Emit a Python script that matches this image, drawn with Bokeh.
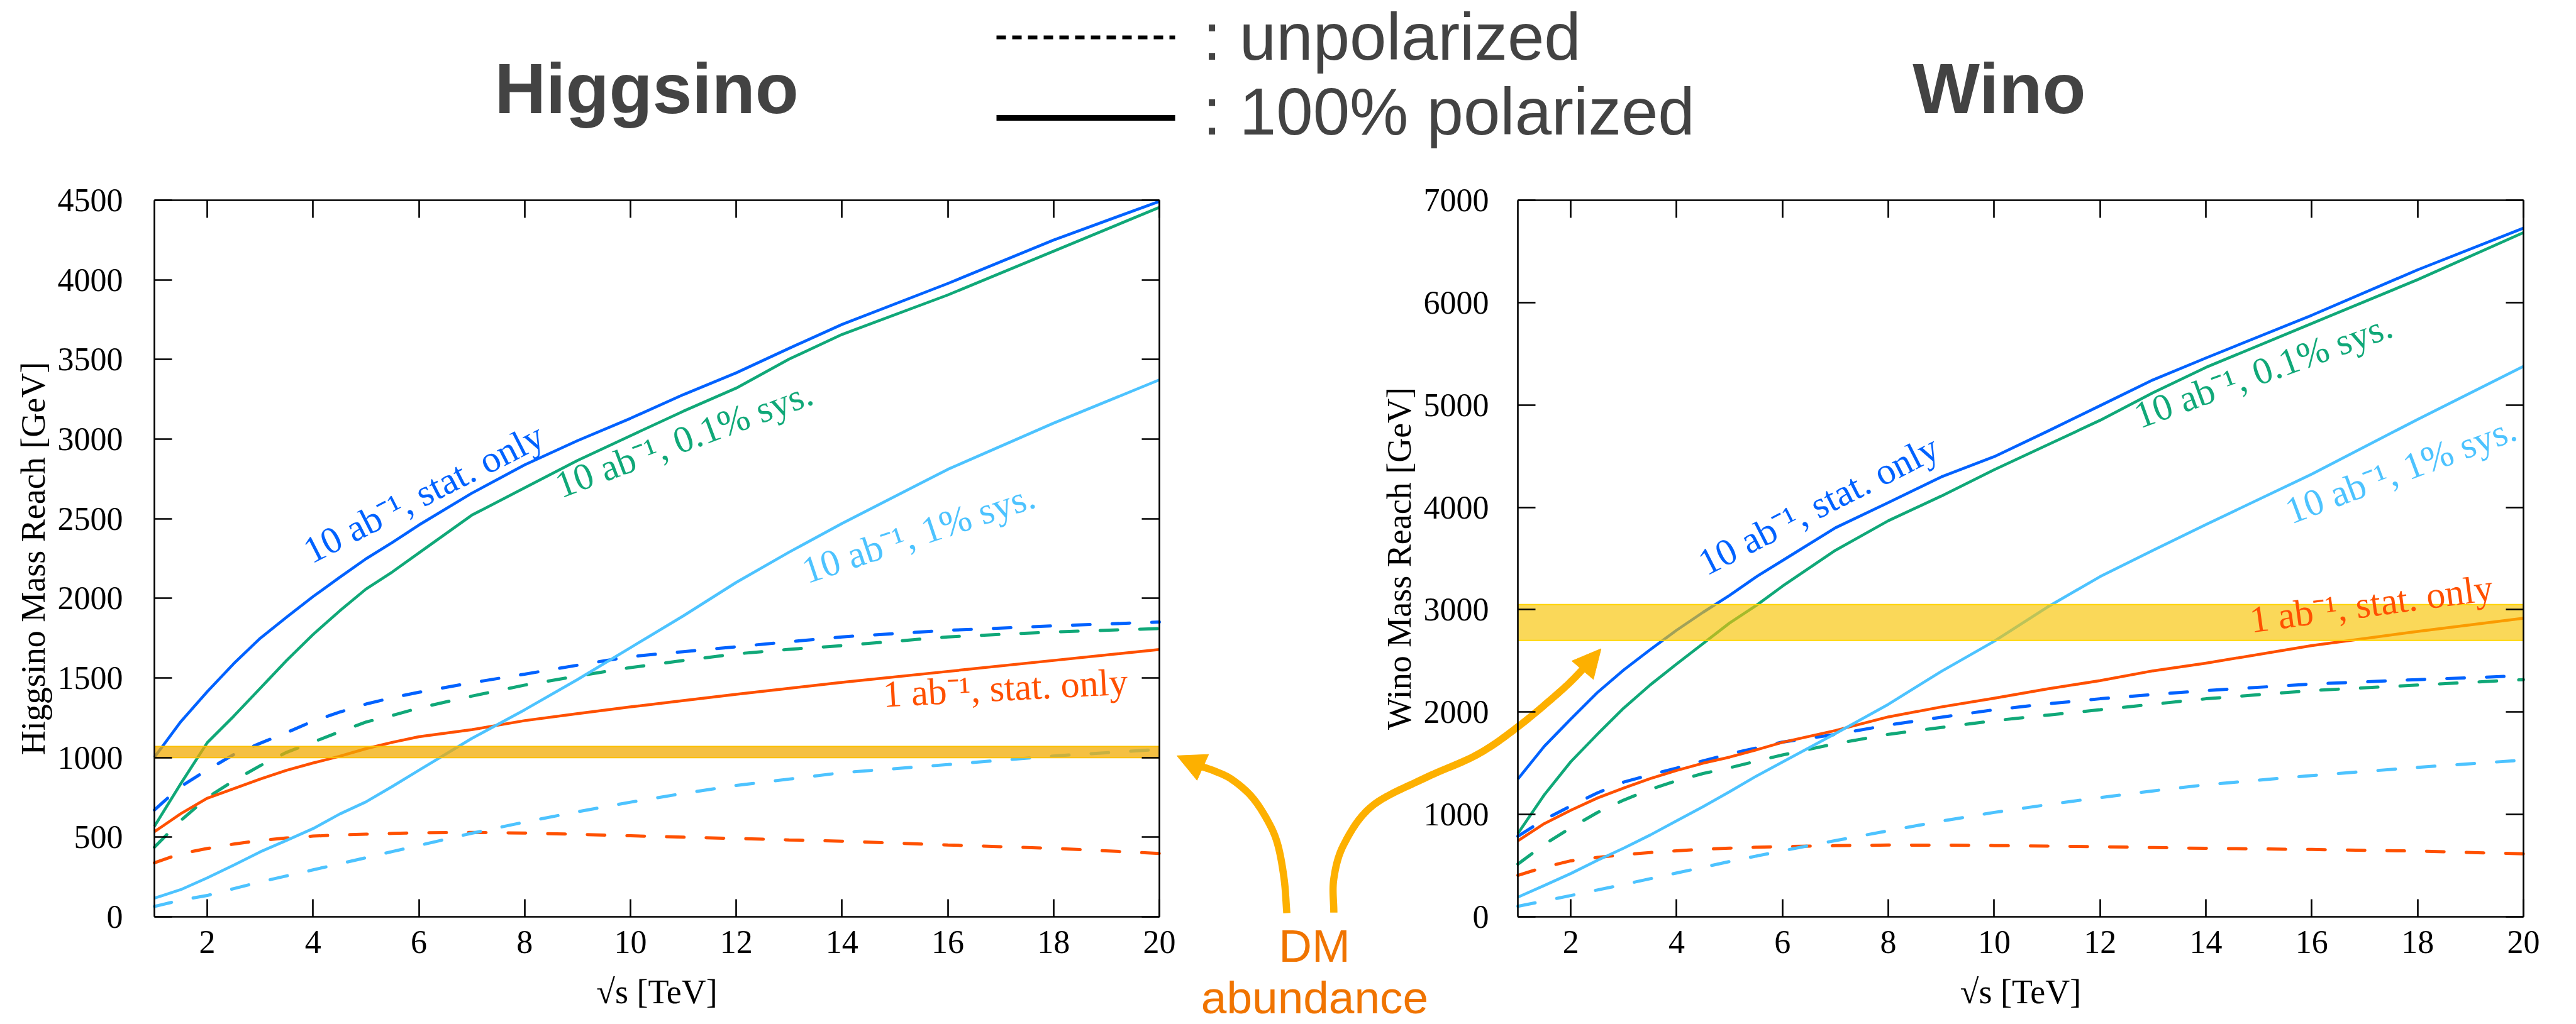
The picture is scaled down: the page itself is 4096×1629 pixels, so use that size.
import numpy as np
from bokeh.plotting import figure
from bokeh.models import (Range1d, LinearAxis, FixedTicker, Label, Arrow, NormalHead)
from bokeh.embed import file_html
from bokeh.resources import INLINE

# ------------------------------------------------------------------ data
sqrt_s = [1, 1.5, 2, 2.5, 3, 3.5, 4, 4.5, 5, 5.5, 6, 7, 8, 9, 10, 11, 12, 13, 14, 16, 18, 20]

# Higgsino mass reach [GeV]
h_pol_stat10 = [1002, 1226, 1414, 1590, 1749, 1882, 2011, 2131, 2248, 2351, 2460, 2660, 2838, 2990, 3130, 3279, 3416, 3570, 3720, 3977, 4250, 4493]
h_pol_sys01 = [568, 837, 1094, 1260, 1435, 1610, 1773, 1920, 2058, 2166, 2285, 2522, 2694, 2866, 3021, 3175, 3320, 3502, 3657, 3905, 4180, 4455]
h_pol_sys1 = [117, 171, 245, 325, 408, 480, 554, 645, 722, 819, 920, 1120, 1300, 1490, 1690, 1890, 2100, 2290, 2470, 2810, 3100, 3372]
h_pol_stat1 = [534, 648, 745, 805, 865, 920, 966, 1008, 1056, 1096, 1131, 1175, 1232, 1276, 1318, 1358, 1397, 1435, 1472, 1541, 1610, 1679]
h_unp_stat10 = [671, 819, 922, 1019, 1090, 1157, 1229, 1285, 1336, 1376, 1410, 1470, 1524, 1580, 1634, 1665, 1696, 1727, 1758, 1799, 1827, 1851]
h_unp_sys01 = [437, 605, 749, 855, 949, 1033, 1097, 1162, 1223, 1265, 1311, 1386, 1455, 1512, 1565, 1610, 1651, 1680, 1703, 1758, 1789, 1810]
h_unp_sys1 = [65, 105, 134, 177, 219, 257, 295, 333, 371, 410, 448, 525, 595, 660, 720, 775, 825, 865, 905, 956, 1010, 1051]
h_unp_stat1 = [339, 397, 429, 457, 480, 495, 507, 514, 519, 524, 528, 530, 526, 518, 509, 500, 492, 483, 475, 451, 430, 398]

# Wino mass reach [GeV]
w_pol_stat10 = [1346, 1666, 1932, 2190, 2412, 2610, 2800, 2975, 3140, 3320, 3480, 3800, 4046, 4297, 4495, 4741, 4993, 5245, 5459, 5876, 6320, 6727]
w_pol_sys01 = [813, 1192, 1515, 1782, 2039, 2265, 2470, 2670, 2870, 3040, 3230, 3580, 3869, 4110, 4367, 4608, 4850, 5120, 5367, 5796, 6224, 6684]
w_pol_sys1 = [192, 306, 423, 551, 671, 799, 938, 1076, 1222, 1373, 1512, 1790, 2076, 2397, 2692, 3024, 3323, 3580, 3832, 4324, 4859, 5378]
w_pol_stat1 = [742, 911, 1041, 1160, 1258, 1350, 1430, 1501, 1560, 1630, 1705, 1820, 1953, 2050, 2135, 2226, 2307, 2403, 2478, 2649, 2788, 2917]
w_unp_stat10 = [787, 950, 1083, 1210, 1316, 1387, 1453, 1524, 1591, 1648, 1707, 1782, 1873, 1950, 2023, 2080, 2130, 2172, 2210, 2274, 2317, 2355]
w_unp_sys01 = [515, 707, 870, 1018, 1140, 1245, 1329, 1400, 1456, 1520, 1581, 1691, 1782, 1850, 1916, 1970, 2023, 2077, 2130, 2210, 2264, 2317]
w_unp_sys1 = [103, 155, 208, 262, 316, 372, 428, 484, 540, 593, 645, 745, 840, 935, 1020, 1095, 1165, 1230, 1290, 1380, 1460, 1531]
w_unp_stat1 = [405, 485, 547, 580, 607, 628, 645, 660, 671, 680, 686, 695, 701, 700, 696, 691, 685, 677, 669, 658, 642, 615]

# DM thermal abundance bands [GeV]
higgsino_band = [1000, 1070]
wino_band = [2700, 3050]

x_ticks = [2, 4, 6, 8, 10, 12, 14, 16, 18, 20]
h_y_ticks = [0, 500, 1000, 1500, 2000, 2500, 3000, 3500, 4000, 4500]
w_y_ticks = [0, 1000, 2000, 3000, 4000, 5000, 6000, 7000]

curve_labels = ["10 ab\u207b\u00b9, stat. only", "10 ab\u207b\u00b9, 0.1% sys.",
                "10 ab\u207b\u00b9, 1% sys.", "1 ab\u207b\u00b9, stat. only"]

# ------------------------------------------------------------------ styles / layout
S = 0.869
W, H = 4096, 1629
TOP, BOT = 318, 1458          # frame top / bottom (px from top)
LF = (245, 1843)              # Higgsino frame left/right
RF = (2413, 4012)             # Wino frame left/right

BLUE, GREEN, LBLUE, RED = "#0062FF", "#10A878", "#4DC3FF", "#FF5000"
ARROW = "#FDB000"
ORANGE_TXT = "#F07400"
GREY_TXT = "#434343"
SERIF = "Liberation Serif"
SANS = "Liberation Sans"


def xrange_for(frame, lo=1.0, hi=20.0):
    k = (hi - lo) / (frame[1] - frame[0])
    return Range1d(start=lo - frame[0] * k, end=lo + (W - frame[0]) * k)


def yrange_for(ymax):
    k = ymax / (BOT - TOP)
    ybot = H - BOT
    return Range1d(start=-ybot * k, end=(H - ybot) * k)


p = figure(width=W, height=H, x_range=Range1d(0, W), y_range=Range1d(0, H),
           x_axis_type=None, y_axis_type=None, output_backend="svg",
           toolbar_location=None, min_border=0, outline_line_color=None)
p.background_fill_color = "white"
p.border_fill_color = "white"
for g in p.grid:
    g.visible = False
p.extra_x_ranges = {"hx": xrange_for(LF), "wx": xrange_for(RF)}
p.extra_y_ranges = {"hy": yrange_for(4500), "wy": yrange_for(7000)}


def Y(py):
    return H - py


def add_axis(side, xr, yr, loc, bounds, ticks, labels=True, standoff=0,
             label=None, label_standoff=0):
    ax = LinearAxis(x_range_name=xr, y_range_name=yr, fixed_location=loc, bounds=bounds,
                    ticker=FixedTicker(ticks=ticks))
    ax.major_tick_in = 28
    ax.major_tick_out = 0
    ax.minor_tick_line_color = None
    ax.major_tick_line_width = 2.6
    ax.major_tick_line_color = "black"
    ax.axis_line_width = 2.6
    ax.axis_line_color = "black"
    ax.major_label_text_font = SERIF
    ax.major_label_text_font_size = "52px"
    ax.major_label_standoff = standoff
    if labels:
        ax.major_label_text_color = "black"
    else:
        ax.major_label_text_color = None
    if label:
        ax.axis_label = label
        ax.axis_label_text_font = SERIF
        ax.axis_label_text_font_style = "normal"
        ax.axis_label_text_font_size = "54px"
        ax.axis_label_text_color = "black"
        ax.axis_label_standoff = label_standoff
    p.add_layout(ax, side)


def build_panel(xr, yr, ymax, yticks, ylabel, ystandoff, series, band, bfill, balpha, bedge):
    for vals, color, dashed in series:
        if dashed:
            p.line(sqrt_s, vals, line_color=color, line_width=5, line_dash="28 35",
                   line_cap="round", x_range_name=xr, y_range_name=yr)
        else:
            p.line(sqrt_s, vals, line_color=color, line_width=4.5, line_join="round",
                   x_range_name=xr, y_range_name=yr)
    p.quad(left=[1], right=[20], bottom=[band[0]], top=[band[1]], fill_color=bfill,
           fill_alpha=balpha, line_color=None, x_range_name=xr, y_range_name=yr)
    p.segment(x0=[1, 1], x1=[20, 20], y0=band, y1=band, line_color=bedge, line_width=2,
              x_range_name=xr, y_range_name=yr)
    add_axis("below", xr, yr, 0, (1, 20), x_ticks, standoff=22,
             label="\u221as [TeV]", label_standoff=29)
    add_axis("left", xr, yr, 1, (0, ymax), yticks, standoff=ystandoff,
             label=ylabel, label_standoff=6)
    add_axis("above", xr, yr, ymax, (1, 20), x_ticks, labels=False)
    add_axis("right", xr, yr, 20, (0, ymax), yticks, labels=False)


build_panel("hx", "hy", 4500, h_y_ticks, "Higgsino Mass Reach [GeV]", 50, [
    (h_unp_stat1, RED, True), (h_unp_sys1, LBLUE, True), (h_unp_sys01, GREEN, True),
    (h_unp_stat10, BLUE, True),
    (h_pol_stat1, RED, False), (h_pol_sys1, LBLUE, False), (h_pol_sys01, GREEN, False),
    (h_pol_stat10, BLUE, False)], higgsino_band, "#F2AA00", 0.74, "#FBBF00")

build_panel("wx", "wy", 7000, w_y_ticks, "Wino Mass Reach [GeV]", 46, [
    (w_unp_stat1, RED, True), (w_unp_sys1, LBLUE, True), (w_unp_sys01, GREEN, True),
    (w_unp_stat10, BLUE, True),
    (w_pol_stat1, RED, False), (w_pol_sys1, LBLUE, False), (w_pol_sys01, GREEN, False),
    (w_pol_stat10, BLUE, False)], wino_band, "#F7C300", 0.65, "#FFD500")


def text(px, py, t, color, font, size, align="center", baseline="alphabetic",
         angle=0, style="normal"):
    p.add_layout(Label(x=px, y=Y(py), text=t, text_color=color, text_font=font,
                       text_font_size="%dpx" % size, text_align=align, text_baseline=baseline,
                       angle=angle, angle_units="deg", text_font_style=style))


def line_text(px, baseline_py, t, color, font, size, align="center", style="normal"):
    # placed by its vertical centre: baseline minus ~0.36 em
    text(px, baseline_py - 0.36 * size, t, color, font, size, align=align,
         baseline="middle", style=style)


# curve labels
for (px, py, i, c, a) in [(673, 784, 0, BLUE, 27), (1087, 698, 1, GREEN, 20.5),
                          (1460, 848, 2, LBLUE, 18.5), (1598, 1094, 3, RED, 3),
                          (2891, 803, 0, BLUE, 27), (3598, 589, 1, GREEN, 20),
                          (3817, 747, 2, LBLUE, 20.5), (3770, 960, 3, RED, 7.7)]:
    text(px, py, curve_labels[i], c, SERIF, 60, baseline="middle", angle=a)

# titles, legend, DM note
line_text(1027.6, 180.8, "Higgsino", GREY_TXT, SANS, 113, style="bold")
line_text(3178.4, 180.8, "Wino", GREY_TXT, SANS, 113, style="bold")
line_text(1912, 96, ": unpolarized", GREY_TXT, SANS, 105, align="left")
line_text(1912, 215, ": 100% polarized", GREY_TXT, SANS, 105, align="left")
line_text(2089.5, 1530, "DM", ORANGE_TXT, SANS, 73)
line_text(2090, 1612, "abundance", ORANGE_TXT, SANS, 73)

p.line([1584, 1868], [Y(59), Y(59)], line_color="black", line_width=6, line_dash="15 10")
p.line([1584, 1868], [Y(187), Y(187)], line_color="black", line_width=9)


def smooth(pts, n=16):
    P = np.array(pts, float)
    P = np.vstack([2 * P[0] - P[1], P, 2 * P[-1] - P[-2]])
    out = []
    for i in range(1, len(P) - 2):
        p0, p1, p2, p3 = P[i - 1], P[i], P[i + 1], P[i + 2]
        for t in np.linspace(0, 1, n, endpoint=False):
            t2, t3 = t * t, t * t * t
            out.append(0.5 * ((2 * p1) + (-p0 + p2) * t + (2 * p0 - 5 * p1 + 4 * p2 - p3) * t2
                              + (-p0 + 3 * p1 - 3 * p2 + p3) * t3))
    out.append(P[-2])
    return np.array(out)


# curved arrows (reference pixel path, scaled)
left_path = [(2354, 1671), (2349, 1608), (2337, 1544), (2318, 1500), (2289, 1457),
             (2253, 1426), (2222, 1411), (2196, 1402)]
right_path = [(2440, 1670), (2440, 1608), (2459, 1544), (2510, 1475), (2606, 1424),
              (2702, 1381), (2778, 1329), (2860, 1260), (2900, 1220)]
heads = [((2201, 1404.5), (2153, 1383)), ((2895.5, 1226), (2929, 1187))]

for path, (base, tip) in zip([left_path, right_path], heads):
    pts = smooth([(a * S, b * S) for a, b in path])
    p.line(list(pts[:, 0]), [Y(v) for v in pts[:, 1]], line_color=ARROW, line_width=11.5,
           line_join="round", line_cap="butt")
    p.add_layout(Arrow(end=NormalHead(size=45, fill_color=ARROW, line_color=ARROW, line_width=1),
                       x_start=base[0] * S, y_start=Y(base[1] * S),
                       x_end=tip[0] * S, y_end=Y(tip[1] * S),
                       line_alpha=0, line_width=1))

open("out.html", "w").write(file_html(p, INLINE))
